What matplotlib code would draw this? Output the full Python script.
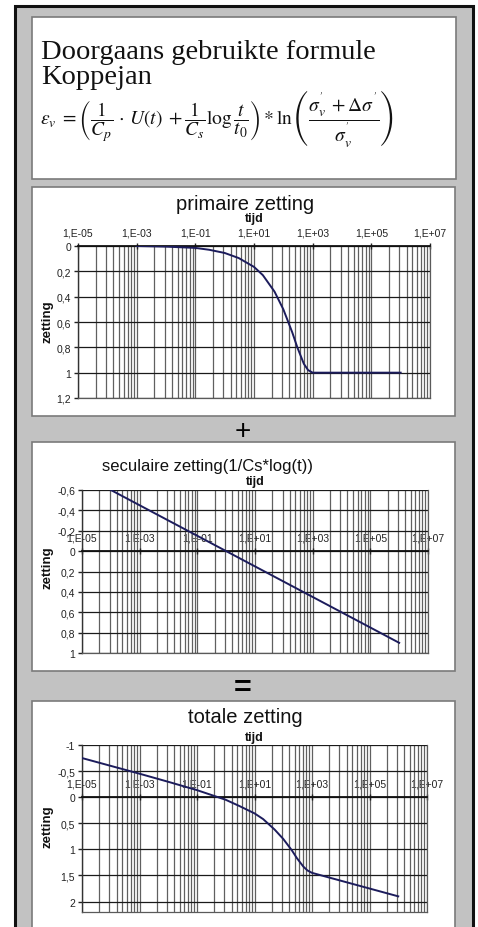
import matplotlib
matplotlib.use("Agg")
import matplotlib.pyplot as plt
from matplotlib.patches import Rectangle
from matplotlib.ticker import FixedLocator, NullFormatter
import numpy as np

# ---------------- data ----------------
x_tick_values = [1e-5, 1e-3, 1e-1, 1e1, 1e3, 1e5, 1e7]
x_tick_labels = ["1,E-05", "1,E-03", "1,E-01", "1,E+01", "1,E+03", "1,E+05", "1,E+07"]

prim_t = [1e-3, 1e-2, 1e-1, 3e-1, 1e0, 3e0, 1e1, 2e1, 5e1, 1e2, 2e2, 3e2, 5e2, 7e2, 1e3, 1e4, 1e5, 1e6]
prim_z = [0.0, 0.005, 0.015, 0.03, 0.055, 0.095, 0.165, 0.23, 0.36, 0.50, 0.68, 0.80, 0.93, 0.98, 1.0, 1.0, 1.0, 1.0]
prim_yticks = [0, 0.2, 0.4, 0.6, 0.8, 1.0, 1.2]
prim_ylabels = ["0", "0,2", "0,4", "0,6", "0,8", "1", "1,2"]

sec_t = [1e-4, 1e-3, 1e-2, 1e-1, 1e0, 1e1, 1e2, 1e3, 1e4, 1e5, 1e6]
sec_z = [-0.6, -0.45, -0.3, -0.15, 0.0, 0.15, 0.3, 0.45, 0.6, 0.75, 0.9]
sec_yticks = [-0.6, -0.4, -0.2, 0, 0.2, 0.4, 0.6, 0.8, 1.0]
sec_ylabels = ["-0,6", "-0,4", "-0,2", "0", "0,2", "0,4", "0,6", "0,8", "1"]

tot_t = [1e-5, 1e-4, 1e-3, 1e-2, 1e-1, 1e0, 3e0, 1e1, 2e1, 5e1, 1e2, 2e2, 3e2, 5e2, 7e2, 1e3, 1e4, 1e5, 1e6]
tot_z = [-0.75, -0.6, -0.45, -0.295, -0.135, 0.05, 0.17, 0.31, 0.42, 0.62, 0.80, 1.02, 1.17, 1.33, 1.405, 1.45, 1.6, 1.75, 1.9]
tot_yticks = [-1, -0.5, 0, 0.5, 1, 1.5, 2]
tot_ylabels = ["-1", "-0,5", "0", "0,5", "1", "1,5", "2"]

# ---------------- layout helpers ----------------
W, H = 478, 928
fig = plt.figure(figsize=(W / 100, H / 100), dpi=100, facecolor="white")
plt.rcParams["font.family"] = ["Liberation Sans", "DejaVu Sans"]
plt.rcParams["mathtext.fontset"] = "stix"


def box(x0, y0, x1, y1):
    return [x0 / W, 1 - y1 / H, (x1 - x0) / W, (y1 - y0) / H]


def fx(x):
    return x / W


def fy(y):
    return 1 - y / H


def rect(x0, y0, x1, y1, fc, ec, lw, z=0):
    r = Rectangle((x0 / W, 1 - y1 / H), (x1 - x0) / W, (y1 - y0) / H,
                  transform=fig.transFigure, facecolor=fc, edgecolor=ec,
                  linewidth=lw, zorder=z)
    fig.add_artist(r)


# outer frame
rect(15, 7, 473, 935, "#c2c2c2", "#111111", 2.2, z=0)
# panels
rect(32, 18, 456, 180, "white", "#7a7a7a", 1.2, z=1)
rect(32, 188, 455, 417, "white", "#7a7a7a", 1.2, z=1)
rect(32, 443, 455, 672, "white", "#7a7a7a", 1.2, z=1)
rect(32, 702, 455, 940, "white", "#7a7a7a", 1.2, z=1)

# header text
fig.text(fx(41), fy(59), "Doorgaans gebruikte formule", family="Liberation Serif",
         fontsize=20.5, ha="left", va="baseline", color="#111111", zorder=5)
fig.text(fx(41), fy(84), "Koppejan", family="Liberation Serif",
         fontsize=20.5, ha="left", va="baseline", color="#111111", zorder=5)
formula = (r"$\varepsilon_v\;=\left(\dfrac{1}{C_p}\,\cdot\,U(t)\;+\dfrac{1}{C_s}\log\dfrac{t}{t_0}\right)"
           r"*\ln\left(\dfrac{\sigma_v^{'}\;+\Delta\sigma^{'}}{\sigma_v^{'}}\right)$")
fig.text(fx(40), fy(119), formula, fontsize=14, ha="left", va="center",
         color="#111111", zorder=5)

# operators
fig.text(fx(243), fy(432), "+", fontsize=20, ha="center", va="center", zorder=5)
fig.text(fx(243), fy(689), "=", fontsize=22, fontweight="bold", ha="center", va="center", zorder=5)

line_color = "#1c1c5c"


def make_chart(pbox, t, z, ylim, yticks, ylabels, title, title_y, title_x, title_fs,
               tijd_y, zet_y):
    x0, y0, x1, y1 = pbox
    ax = fig.add_axes(box(x0, y0, x1, y1), zorder=3)
    ax.patch.set_visible(False)
    ax.set_xscale("log")
    ax.set_xlim(1e-5, 1e7)
    ax.set_ylim(ylim[1], ylim[0])
    # minor vertical grid (Excel log base 100 minor positions)
    minors = []
    for e in range(-5, 7, 2):
        for k in range(2, 10):
            minors.append(10.0 ** e * k * k)
    ax.xaxis.set_minor_locator(FixedLocator(minors))
    ax.xaxis.set_minor_formatter(NullFormatter())
    ax.set_xticks(x_tick_values)
    ax.set_xticklabels(x_tick_labels)
    ax.set_yticks(yticks)
    ax.set_yticklabels(ylabels)
    ax.grid(True, which="both", axis="x", color="#606060", linewidth=0.9)
    ax.grid(True, which="major", axis="y", color="#1a1a1a", linewidth=0.9)
    ax.set_axisbelow(True)
    ax.xaxis.set_ticks_position("top")
    ax.spines["top"].set_position(("data", 0))
    ax.spines["top"].set_linewidth(1.3)
    ax.spines["top"].set_color("#111111")
    ax.spines["left"].set_linewidth(1.0)
    ax.spines["left"].set_color("#333333")
    for s in ("right", "bottom"):
        ax.spines[s].set_color("#5a5a5a")
        ax.spines[s].set_linewidth(0.9)
    ax.tick_params(axis="x", which="major", direction="inout", length=4, width=1,
                   pad=4, labelsize=7.5, colors="#222222")
    ax.tick_params(axis="x", which="minor", length=0)
    ax.tick_params(axis="y", which="major", direction="out", length=3, width=1,
                   pad=2, labelsize=7.5, colors="#222222")
    ax.plot(t, z, color=line_color, linewidth=1.4, zorder=4, clip_on=True)
    fig.text(fx(title_x), fy(title_y), title, fontsize=title_fs, ha="center",
             va="center", color="#111111", zorder=5)
    fig.text(fx((x0 + x1) / 2), fy(tijd_y), "tijd", fontsize=9, fontweight="bold",
             ha="center", va="center", color="#111111", zorder=5)
    fig.text(fx(47), fy(zet_y), "zetting", fontsize=9.5, fontweight="bold",
             rotation=90, ha="center", va="center", color="#111111", zorder=5)
    return ax


make_chart((78, 247, 430, 399), prim_t, prim_z, (0, 1.2), prim_yticks, prim_ylabels,
           "primaire zetting", 205, 245, 14.5, 219, 322)
make_chart((82, 491, 428, 654), sec_t, sec_z, (-0.6, 1.0), sec_yticks, sec_ylabels,
           "seculaire zetting(1/Cs*log(t))", 467, 207, 12, 482, 568)
make_chart((82, 746, 427, 913), tot_t, tot_z, (-1.0, 2.2), tot_yticks, tot_ylabels,
           "totale zetting", 718, 245, 14.5, 738, 827)

fig.savefig("out.png", dpi=100, facecolor="white")
